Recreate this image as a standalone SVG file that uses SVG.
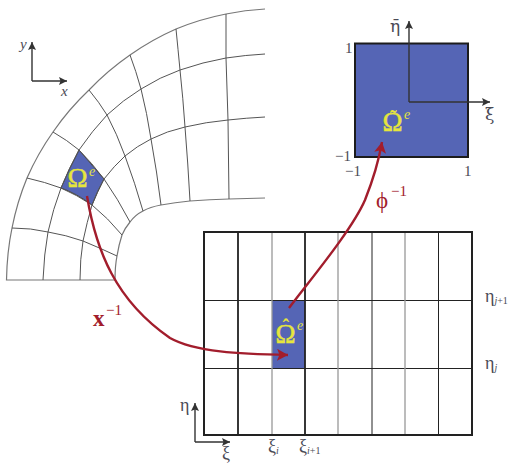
<svg xmlns="http://www.w3.org/2000/svg" width="508" height="464" viewBox="0 0 508 464">
<style>
.m{fill:none;stroke:#555;stroke-width:1}
.o{fill:none;stroke:#777;stroke-width:1.2}
.d{fill:none;stroke:#222;stroke-width:1}
.t{fill:none;stroke:#222;stroke-width:1.8}
.g{fill:none;stroke:#999;stroke-width:1.3}
.ax{fill:none;stroke:#333;stroke-width:1.4;marker-end:url(#ah)}
.r{fill:none;stroke:#a21d2c;stroke-width:2.4}
text{font-family:"Liberation Serif","Times New Roman",serif;fill:#4a4a55}
.n{font-size:15px}
.b{font-size:18px}
.s{font-size:10px}
.i{font-style:italic}
.y{fill:#e6e63c;stroke:#e6e63c;stroke-width:.5;font-size:27px}
.acc{fill:#e6e63c;font-weight:bold;font-size:20px}
.dk{font-family:"DejaVu Serif",serif;font-size:17px}
.ye{fill:#e6e63c;font-size:14px;font-style:italic}
</style>
<defs>
<marker id="ah" markerUnits="userSpaceOnUse" markerWidth="9" markerHeight="8" refX="8" refY="4" orient="auto"><path d="M0 0L8 4L0 8L1.500 4Z" fill="#333"/></marker>
<marker id="rh" markerUnits="userSpaceOnUse" markerWidth="13" markerHeight="12" refX="11" refY="6" orient="auto"><path d="M0 0L11 6L0 12L2.500 6Z" fill="#a21d2c"/></marker>
</defs>
<g id="physical-mesh">
<path d="M79 150L104 179Q97 193 92 205Q76 193 61 188Q69 169 79 150Z" fill="#5565b5" stroke="#444"/>
<path class="o" d="M115 280H6.500Q7 252 12 228A265 265 0 0 1 27 178A265 265 0 0 1 53 132A265 265 0 0 1 89 90A265 265 0 0 1 130 55A265 265 0 0 1 176 29A265 265 0 0 1 226 14Q245 10 265 9"/>
<path class="m" d="M43 280Q44 254 48 232Q53 209 61 188Q69 168 79 150Q92 131 107 115Q123 100 141 89Q160 77 180 70Q203 62 226 58Q246 55 265 54"/>
<path class="m" d="M80 280Q80 259 83 241Q87 222 92 205Q97 191 104 179Q114 166 125 156Q137 146 151 139Q167 131 185 127Q206 122 228 120Q246 118 265 117"/>
<path class="o" d="M115 280Q115 266 117 256Q119 244 122 235Q125 228 130 222Q135 215 143 211Q150 207 161 205Q175 202.500 190 201Q210 199.500 229 199L265 198"/>
<path class="m" d="M12 228Q31 228 48 232Q66 235 83 241Q100 248 117 256"/>
<path class="m" d="M27 178Q45 182 61 188Q77 195 92 205Q108 218 122 235"/>
<path class="m" d="M53 132Q67 140 79 150Q92 163 104 179Q118 199 130 222"/>
<path class="m" d="M89 90Q99 102 107 115Q117 134 125 156Q135 183 143 211"/>
<path class="m" d="M130 55Q136 71 141 89Q147 113 151 139Q157 172 161 205"/>
<path class="m" d="M176 29Q178 49 180 70Q183 98 185 127Q188 164 190 201"/>
<path class="m" d="M226 14L226 58L228 120L229 199"/>
<text class="y" x="67.500" y="187">Ω</text>
<text class="ye" x="89" y="176">e</text>
</g>
<g id="physical-axes">
<path class="ax" d="M32 81V42"/>
<path class="ax" d="M32 81H67"/>
<text class="n i" x="20" y="49">y</text>
<text class="n i" x="61" y="96">x</text>
</g>
<g id="reference-square">
<rect x="355" y="43.500" width="113" height="113.500" fill="#5565b5" stroke="#1c1c1c" stroke-width="2"/>
<path class="ax" d="M409 102V21"/>
<path class="ax" d="M409 102H490"/>
<text class="y" x="382.500" y="130.500">Ω</text>
<text class="acc" x="390" y="125">˜</text>
<text class="ye" x="404" y="119">e</text>
<text class="dk" x="390" y="32">η̄</text>
<text class="dk" x="485" y="120">ξ̄</text>
<text class="n" x="345" y="53">1</text>
<text class="n" x="335" y="161">−1</text>
<text class="n" x="345" y="176">−1</text>
<text class="n" x="464" y="176">1</text>
</g>
<g id="computational-grid">
<rect x="272" y="300.500" width="33" height="68" fill="#5565b5"/>
<path class="d" d="M204 300.500H472M204 368.500H472M372 232V435M438.500 232V435"/>
<path class="g" d="M272 232V435M338 232V435M405 232V435"/>
<path class="t" d="M238 232V435M305 232V435"/>
<rect x="204" y="232" width="268" height="203" fill="none" stroke="#222" stroke-width="2"/>
<text class="y" x="275.500" y="342.500">Ω</text>
<text class="acc" x="282.500" y="334">ˆ</text>
<text class="ye" x="297" y="330">e</text>
</g>
<g id="grid-axes">
<path class="ax" d="M195 442V403"/>
<path class="ax" d="M195 442H230"/>
<text class="b" x="180" y="411">η</text>
<text class="b" x="222" y="459">ξ</text>
<text class="b" x="268" y="452">ξ<tspan class="s i" dy="2">i</tspan></text>
<text class="b" x="299" y="452">ξ<tspan class="s" dy="2"><tspan class="i">i</tspan>+1</tspan></text>
<text class="b" x="485" y="302">η<tspan class="s" dy="2"><tspan class="i">j</tspan>+1</tspan></text>
<text class="b" x="485" y="369">η<tspan class="s i" dy="2">j</tspan></text>
</g>
<g id="connectors">
<path class="r" marker-end="url(#rh)" d="M87 196C96 250 115 300 170 338C195 352 240 354 288 355"/>
<path class="r" marker-end="url(#rh)" d="M289 308C310 280 352 230 365 200C373 180 378 165 382 142"/>
</g>
<g id="labels">
<text x="93" y="326" style="font-size:23px;font-weight:bold;fill:#a21d2c">x</text>
<text x="106" y="315" style="font-size:15px;fill:#a21d2c">−1</text>
<text x="376" y="208" style="font-size:23px;fill:#a21d2c">ϕ</text>
<text x="391" y="196" style="font-size:15px;fill:#a21d2c">−1</text>
</g>
</svg>
